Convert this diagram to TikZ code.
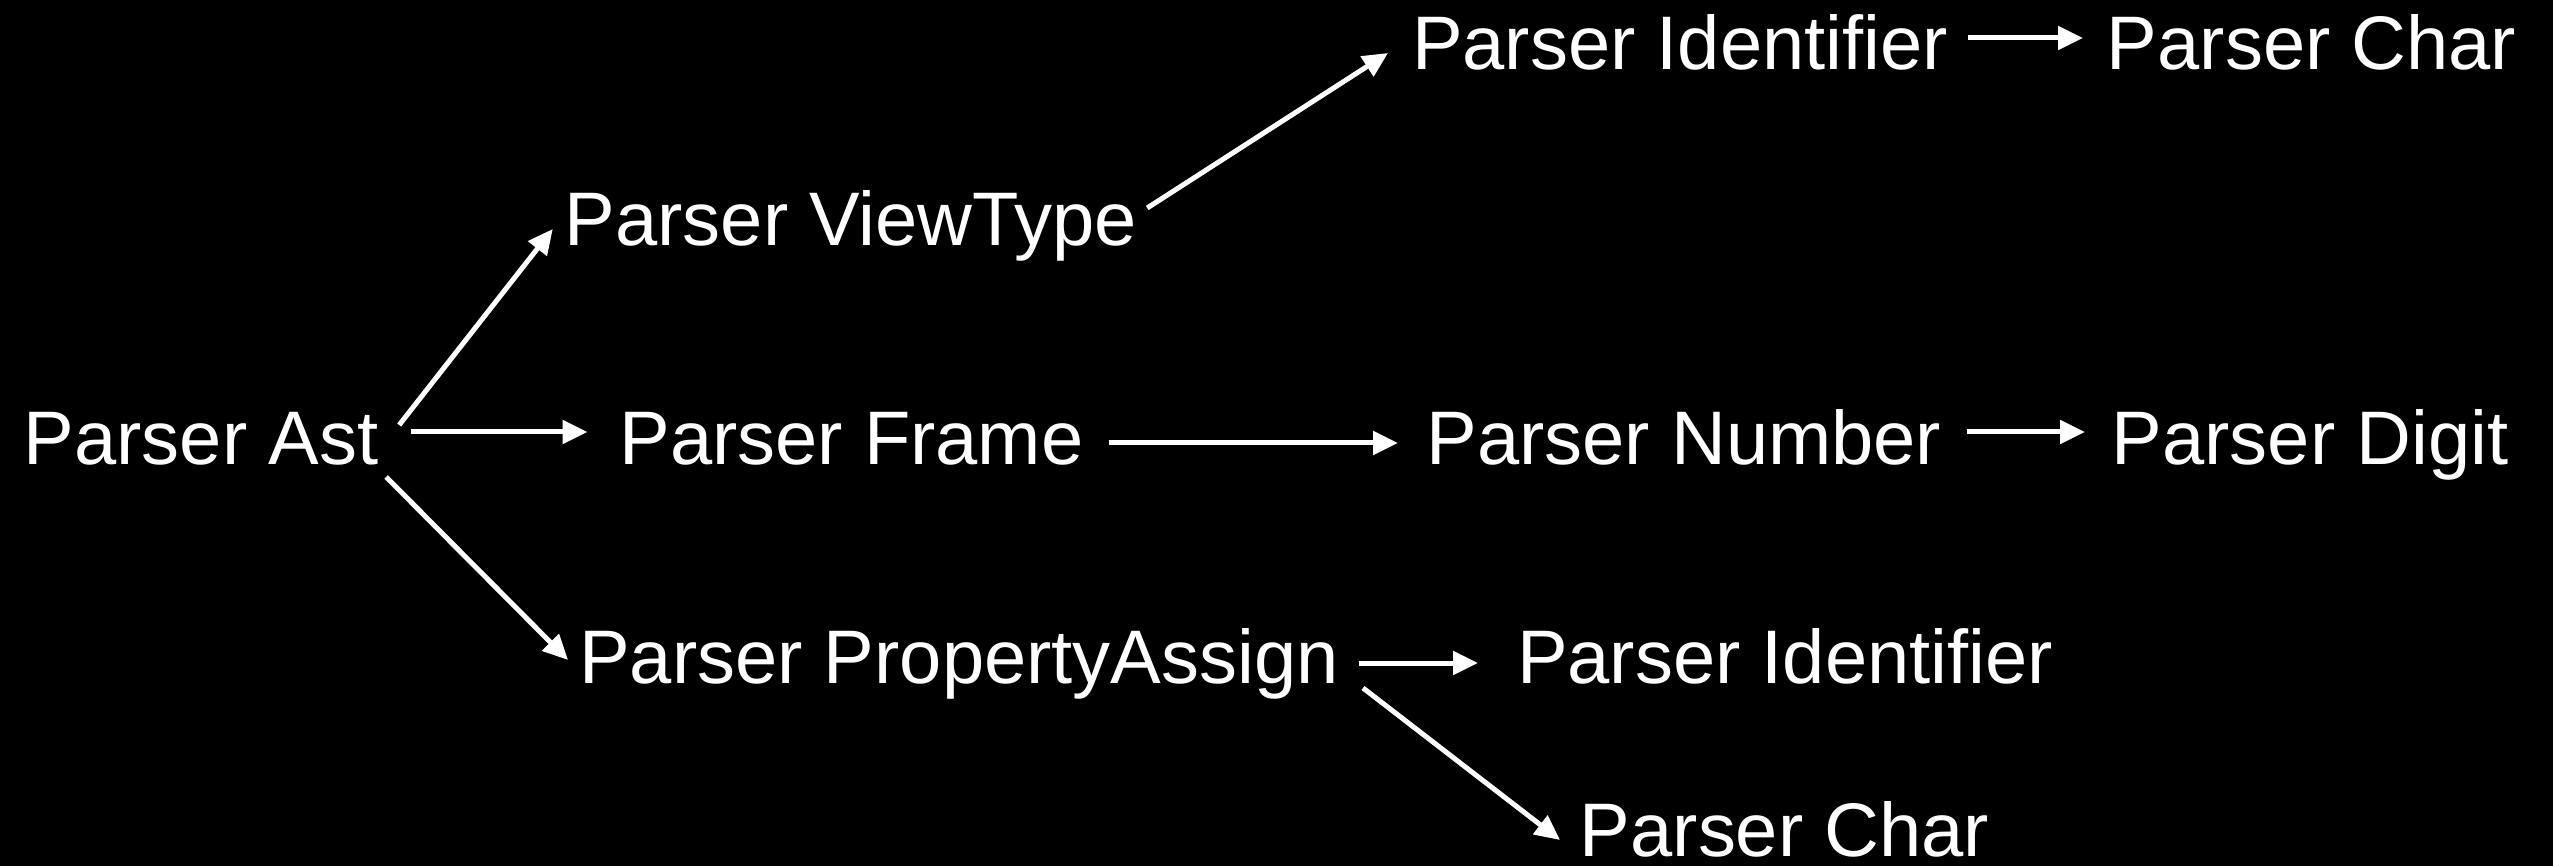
\documentclass[tikz,border=0pt]{standalone}
\usepackage{fontspec}
\setmainfont{Liberation Sans}
\usetikzlibrary{arrows.meta}
\tikzset{
  lbl/.style={text=white, inner sep=0pt, outer sep=0pt, anchor=base,
    font=\fontsize{21.6}{26}\selectfont},
  arr/.style={draw=white, line width=0.05cm, -{Triangle[length=0.25cm,width=0.23cm]}}
}
\begin{document}
\begin{tikzpicture}
\fill[black] (0,0) rectangle (25.53,8.66);
\useasboundingbox (0,0) rectangle (25.53,8.66);
% nodes (centre x, baseline y)
\node[lbl, minimum width=3.48cm] (ast)   at (2.01, 4.01) {Parser Ast};
\node[lbl, minimum width=5.72cm] (vt)    at (8.51, 6.20) {Parser ViewType};
\node[lbl, minimum width=4.57cm] (frame) at (8.515, 4.01) {Parser Frame};
\node[lbl, minimum width=7.80cm] (prop)  at (9.59, 1.83) {Parser PropertyAssign};
\node[lbl, minimum width=5.68cm] (id1)   at (16.80, 7.96) {Parser Identifier};
\node[lbl, minimum width=4.11cm] (char1) at (23.115, 7.96) {Parser Char};
\node[lbl, minimum width=5.22cm] (num)   at (16.84, 4.01) {Parser Number};
\node[lbl, minimum width=4.10cm] (digit) at (23.10, 4.01) {Parser Digit};
\node[lbl, minimum width=5.76cm] (id2)   at (17.85, 1.83) {Parser Identifier};
\node[lbl, minimum width=4.11cm] (char2) at (17.845, 0.10) {Parser Char};
% connectors
\draw[arr] ([shift={(0.21,0.40)}]ast.base east) -- ([shift={(-0.12,0.17)}]vt.base west);
\draw[arr] ([shift={(0.33,0.33)}]ast.base east) -- ([shift={(-0.32,0.33)}]frame.base west);
\draw[arr] ([shift={(0.08,-0.12)}]ast.base east) -- ([shift={(-0.01,0.23)}]prop.base west);
\draw[arr] ([shift={(0.10,0.38)}]vt.base east) -- ([shift={(-0.08,0.17)}]id1.base west);
\draw[arr] ([shift={(0.25,0.22)}]frame.base east) -- ([shift={(-0.25,0.22)}]num.base west);
\draw[arr] ([shift={(0.22,0.33)}]num.base east) -- ([shift={(-0.20,0.33)}]digit.base west);
\draw[arr] ([shift={(0.04,0.32)}]id1.base east) -- ([shift={(-0.23,0.32)}]char1.base west);
\draw[arr] ([shift={(0.10,0.20)}]prop.base east) -- ([shift={(-0.19,0.20)}]id2.base west);
\draw[arr] ([shift={(0.14,-0.05)}]prop.base east) -- ([shift={(-0.19,0.16)}]char2.base west);
\end{tikzpicture}
\end{document}
